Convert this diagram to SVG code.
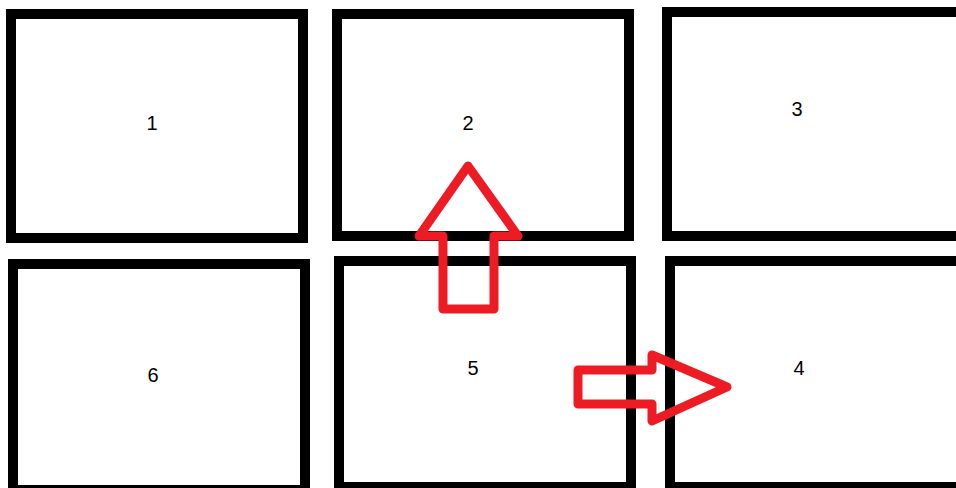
<svg xmlns="http://www.w3.org/2000/svg" width="956" height="488" viewBox="0 0 956 488">
<style>
.box{fill:#fff;stroke:#000;stroke-width:10}
.lbl{font-family:"Liberation Sans",Arial,sans-serif;font-size:20px;fill:#000;text-anchor:middle}
.arrow{fill:none;stroke:#ED1C24;stroke-width:9;stroke-linejoin:round}
</style>
<rect width="956" height="488" fill="#fff"/>
<g id="node1"><rect class="box" x="11" y="14" width="292" height="224"/><text class="lbl" x="152" y="130">1</text></g>
<g id="node2"><rect class="box" x="337" y="14" width="292" height="222"/><text class="lbl" x="468" y="130">2</text></g>
<g id="node3"><rect class="box" x="667" y="12" width="294" height="224"/><text class="lbl" x="797" y="116">3</text></g>
<g id="node6"><rect class="box" x="13" y="264" width="292" height="226"/><text class="lbl" x="153" y="382">6</text></g>
<g id="node5"><rect class="box" x="339" y="261" width="292" height="226"/><text class="lbl" x="473" y="375">5</text></g>
<g id="node4"><rect class="box" x="670" y="261" width="294" height="226"/><text class="lbl" x="799" y="375">4</text></g>
<g id="connectors">
<polygon id="arrow-5-2" class="arrow" points="468,166 518,236 494,236 494,309 443,309 443,236 419,236"/>
<polygon id="arrow-5-4" class="arrow" points="578,370 652,370 652,355 727,387 652,421 652,404 578,404"/>
</g>
</svg>
